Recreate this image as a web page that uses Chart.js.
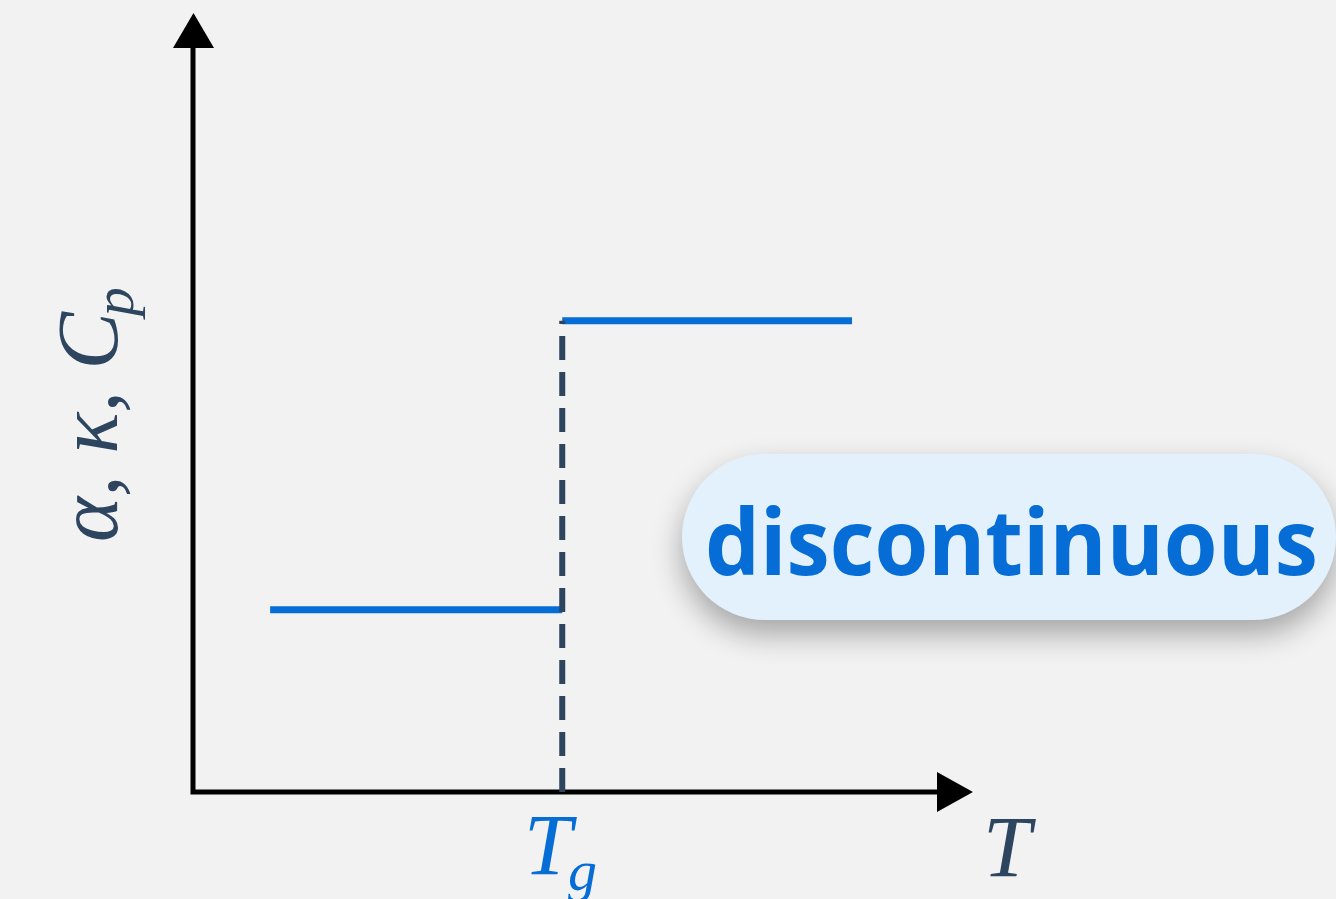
<!DOCTYPE html>
<html>
<head>
<meta charset="utf-8">
<script src="https://cdn.jsdelivr.net/npm/chart.js@4"></script>
<style>
  html, body { margin: 0; padding: 0; background: #f2f2f2; overflow: hidden; }
  canvas { display: block; }
</style>
</head>
<body>
<canvas id="glass" width="1336" height="899"></canvas>
<script>
// values (arbitrary units, axes run 0..10)
const tg = 4.74;
const lowX = [0.99, tg];
const lowY = [2.34, 2.34];
const highX = [tg, 8.46];
const highY = [6.05, 6.05];
const dashX = [tg, tg];
const dashY = [0, 6.05];

const blue = "#066dd7";
const slate = "#2e4560";

const pts = (xs, ys) => xs.map((x, i) => ({ x: x, y: ys[i] }));

// axes with arrow heads, labels and the "discontinuous" callout
const decor = {
    id: "decor",
    beforeDatasetsDraw(chart) {
        const ctx = chart.ctx;
        const xs = chart.scales.x, ys = chart.scales.y;
        const x0 = xs.getPixelForValue(0), y0 = ys.getPixelForValue(0);
        ctx.save();
        ctx.strokeStyle = "#000";
        ctx.fillStyle = "#000";
        ctx.lineWidth = 5;
        ctx.beginPath();
        ctx.moveTo(x0, y0);
        ctx.lineTo(x0, 46);
        ctx.moveTo(x0 - 2.5, y0);
        ctx.lineTo(940, y0);
        ctx.stroke();
        ctx.beginPath();
        ctx.moveTo(173, 48); ctx.lineTo(214, 48); ctx.lineTo(193.5, 13);
        ctx.closePath(); ctx.fill();
        ctx.beginPath();
        ctx.moveTo(937, 772); ctx.lineTo(937, 812); ctx.lineTo(973, 792);
        ctx.closePath(); ctx.fill();
        ctx.restore();
    },
    afterDatasetsDraw(chart) {
        const ctx = chart.ctx;
        const serif = "'Liberation Serif', 'Times New Roman', serif";
        ctx.save();
        ctx.textBaseline = "alphabetic";
        // T_g
        ctx.fillStyle = blue;
        ctx.font = "italic 86px " + serif;
        ctx.fillText("T", 524, 874);
        ctx.font = "italic 58px " + serif;
        ctx.fillText("g", 568, 890);
        // T
        ctx.fillStyle = slate;
        ctx.font = "italic 86px " + serif;
        ctx.fillText("T", 983, 876);
        // y label
        ctx.save();
        ctx.translate(117, 542);
        ctx.rotate(-Math.PI / 2);
        ctx.font = "italic 86px " + serif;
        const main = "\u03b1, \u03ba, C";
        ctx.fillText(main, 0, 0);
        const w = ctx.measureText(main).width;
        ctx.font = "italic 58px " + serif;
        ctx.fillText("p", w - 4, 16);
        ctx.restore();
        // callout
        const bx = 682, by = 454, bw = 654, bh = 166, r = 83;
        ctx.save();
        ctx.shadowColor = "rgba(0,0,0,0.32)";
        ctx.shadowBlur = 30;
        ctx.shadowOffsetY = 14;
        ctx.fillStyle = "#e3f1fc";
        ctx.beginPath();
        ctx.roundRect(bx, by, bw, bh, r);
        ctx.fill();
        ctx.restore();
        ctx.fillStyle = blue;
        ctx.font = "bold 88px 'Open Sans', 'Noto Sans', sans-serif";
        const word = "discontinuous";
        const tw = ctx.measureText(word).width;
        ctx.save();
        ctx.translate(705, 575);
        ctx.scale(613 / tw, 1.04);
        ctx.fillText(word, 0, 0);
        ctx.restore();
        ctx.restore();
    }
};

new Chart(document.getElementById("glass"), {
    type: "scatter",
    data: {
        datasets: [
            {
                data: pts(dashX, dashY),
                showLine: true,
                borderColor: slate,
                borderWidth: 6,
                borderDash: [24, 12],
                pointRadius: 0,
            },
            {
                data: pts(lowX, lowY),
                showLine: true,
                borderColor: blue,
                borderWidth: 7,
                pointRadius: 0,
            },
            {
                data: pts(highX, highY),
                showLine: true,
                borderColor: blue,
                borderWidth: 7,
                pointRadius: 0,
            },
        ],
    },
    options: {
        responsive: false,
        animation: false,
        devicePixelRatio: 1,
        layout: { padding: { left: 193, right: 364, top: 13, bottom: 107 } },
        plugins: { legend: { display: false }, tooltip: { enabled: false } },
        scales: {
            x: { type: "linear", min: 0, max: 10, display: false },
            y: { type: "linear", min: 0, max: 10, display: false },
        },
    },
    plugins: [decor],
});
</script>
</body>
</html>
